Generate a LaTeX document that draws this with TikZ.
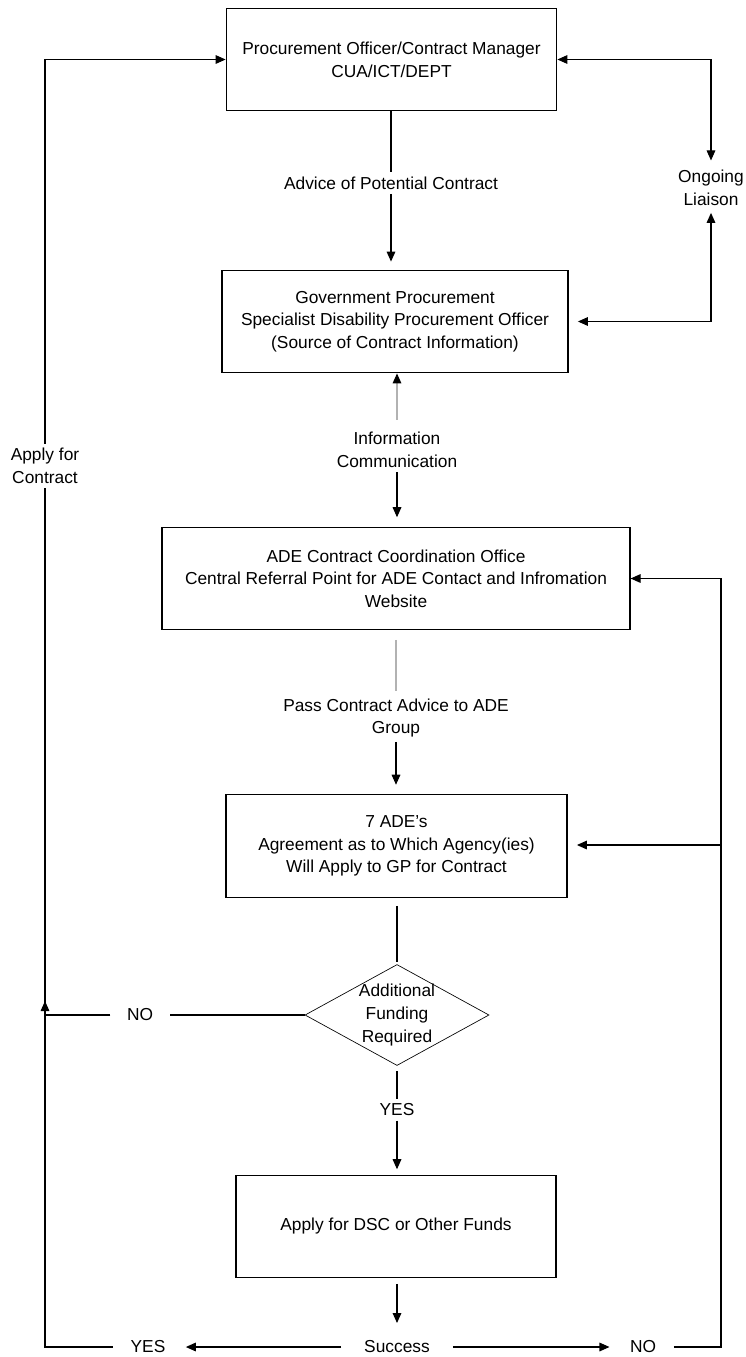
\documentclass[tikz,border=0pt]{standalone}
\usepackage{fontspec}
\setmainfont{Liberation Sans}
\usetikzlibrary{arrows.meta,shapes.geometric}
\tikzset{
  box/.style={draw,line width=0.9pt,minimum height=77pt,align=center},
  tag/.style={align=center,inner sep=3pt},
  arr/.style={-{Triangle[length=7.5pt,width=6.5pt,color=black]}},
  dbl/.style={{Triangle[length=7.5pt,width=6.5pt]}-{Triangle[length=7.5pt,width=6.5pt]}},
  faint/.style={draw=black!30},
}
\begin{document}
\begin{tikzpicture}[x=0.75pt,y=-0.75pt,line width=0.8pt,font=\fontsize{13}{17}\selectfont]
  \useasboundingbox (0,0) rectangle (746,1357);

  \node[box,minimum width=248pt] (officer) at (391.5,59.5) {Procurement Officer/Contract Manager\\CUA/ICT/DEPT};
  \node[box,minimum width=259.5pt] (gps) at (395,321.5) {Government Procurement\\Specialist Disability Procurement Officer\\(Source of Contract Information)};
  \node[box,minimum width=351pt] (ade) at (396,578.5) {ADE Contract Coordination Office\\Central Referral Point for ADE Contact and Infromation\\Website};
  \node[box,minimum width=255.75pt] (seven) at (396.5,846) {7 ADE's\\Agreement as to Which Agency(ies)\\Will Apply to GP for Contract};
  \node[draw,diamond,line width=0.5pt,inner sep=0pt,minimum width=138pt,minimum height=75.75pt,
        label={[align=center,inner sep=0pt]center:Additional\\Funding\\Required}] (funding) at (397,1015) {};
  \node[box,minimum width=240pt] (funds) at (396,1226.5) {Apply for DSC or Other Funds};

  \node[tag] (advice) at (391,183) {Advice of Potential Contract};
  \node[tag] (liaison) at (711,188) {Ongoing\\Liaison};
  \node[tag] (info) at (397,450) {Information\\Communication};
  \node[tag] (pass) at (396,718) {Pass Contract Advice to ADE\\Group};
  \node[tag,fill=white] (apply) at (45,466) {Apply for\\Contract};
  \node[tag,inner xsep=12pt] (nol) at (140,1015) {NO};
  \node[tag] (yesd) at (397,1110) {YES};
  \node[tag] (succ) at (397,1347) {Success};
  \node[tag] (yesb) at (148,1347) {YES};
  \node[tag] (nob) at (643,1347) {NO};

  \coordinate (jtip) at (45,1001);
  \coordinate (loop) at (721,845);

  \draw (officer.south -| advice) -- (advice.north);
  \draw[arr,shorten >=6pt] (advice.south) -- (advice.south |- gps.north);
  \draw[dbl,shorten >=4pt] (officer.east) -- (officer.east -| liaison) -- (liaison.north);
  \draw[dbl,shorten <=2pt,shorten >=7pt] (liaison.south) -- (liaison.south |- gps.east) -- (gps.east);

  \draw[faint,arr,shorten <=6pt] (info.north) -- (info.north |- gps.south);
  \draw[arr,shorten >=7pt] (info.south) -- (info.south |- ade.north);
  \draw[faint,shorten <=7pt,shorten >=2pt] (pass.north |- ade.south) -- (pass.north);
  \draw[arr,shorten >=7pt] (pass.south) -- (pass.south |- seven.north);

  \draw[shorten <=6pt,shorten >=2pt] (seven.south -| funding) -- (funding.north);
  \draw (funding.west) -- (nol.east);
  \draw[arr] (nol.west) -- (nol.west -| jtip) -- (jtip);
  \draw[shorten <=4pt] (funding.south) -- (yesd.north);
  \draw[arr,shorten >=4pt] (yesd.south) -- (yesd.south |- funds.north);
  \draw[arr,shorten <=4pt,shorten >=10pt] (funds.south -| succ) -- (succ.north);

  \draw[arr,shorten <=14pt,shorten >=12pt] (succ.west) -- (yesb.east);
  \draw[shorten <=10pt] (yesb.west) -- (yesb.west -| apply) -- (apply.south);
  \draw[arr] (apply.north) -- (apply.north |- officer.west) -- (officer.west);
  \draw[arr,shorten <=14pt,shorten >=12pt] (succ.east) -- (nob.west);
  \draw[arr,shorten <=10pt] (nob.east) -- (nob.east -| loop) -- (loop |- ade.east) -- (ade.east);
  \draw[arr,shorten >=7pt] (loop) -- (loop -| seven.east);
\end{tikzpicture}
\end{document}
